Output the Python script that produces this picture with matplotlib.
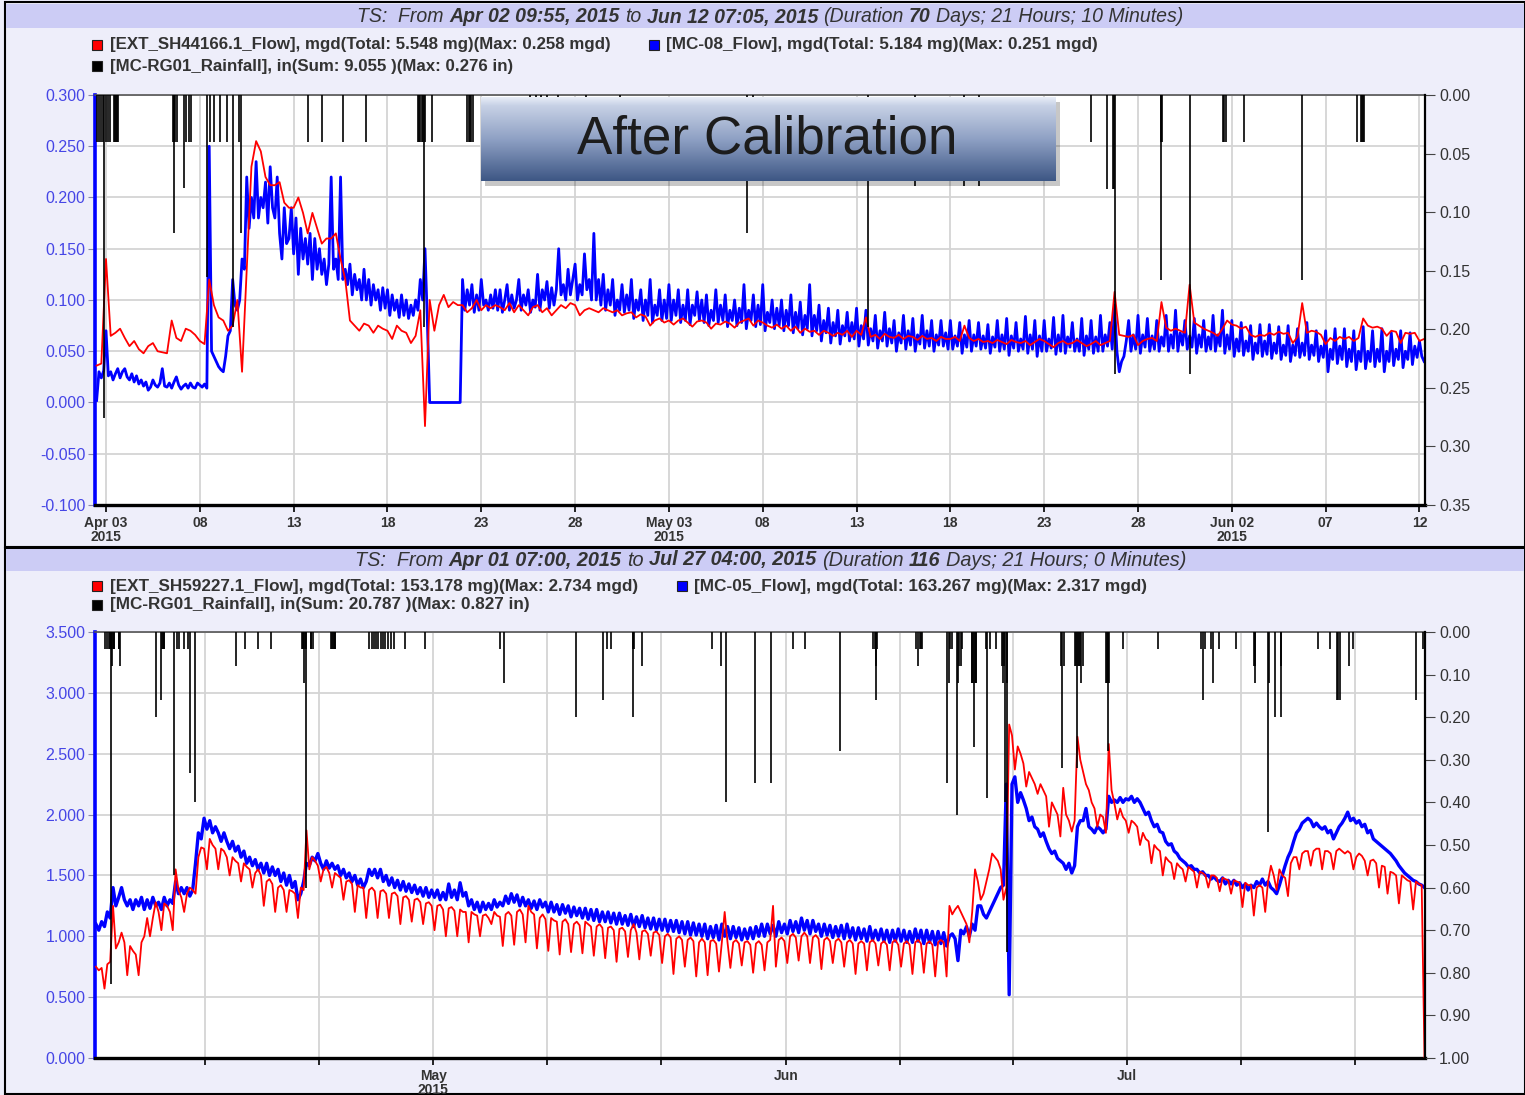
import numpy as np
import matplotlib
matplotlib.use('Agg')
import matplotlib.pyplot as plt
import matplotlib.dates as mdates
from matplotlib.patches import Rectangle

plt.rcParams['font.family'] = ['Liberation Sans', 'DejaVu Sans']

W, H = 1525, 1095

# ------------------------------------------------------------------ DATA
top_title_parts = [("TS:  From ", False), ("Apr 02 09:55, 2015", True), (" to ", False),
                   ("Jun 12 07:05, 2015", True), (" (Duration ", False), ("70", True),
                   (" Days; 21 Hours; 10 Minutes)", False)]
bot_title_parts = [("TS:  From ", False), ("Apr 01 07:00, 2015", True), (" to ", False),
                   ("Jul 27 04:00, 2015", True), (" (Duration ", False), ("116", True),
                   (" Days; 21 Hours; 0 Minutes)", False)]

top_leg_red = "[EXT_SH44166.1_Flow], mgd(Total: 5.548 mg)(Max: 0.258 mgd)"
top_leg_blue = "[MC-08_Flow], mgd(Total: 5.184 mg)(Max: 0.251 mgd)"
top_leg_rain = "[MC-RG01_Rainfall], in(Sum: 9.055 )(Max: 0.276 in)"
bot_leg_red = "[EXT_SH59227.1_Flow], mgd(Total: 153.178 mg)(Max: 2.734 mgd)"
bot_leg_blue = "[MC-05_Flow], mgd(Total: 163.267 mg)(Max: 2.317 mgd)"
bot_leg_rain = "[MC-RG01_Rainfall], in(Sum: 20.787 )(Max: 0.827 in)"

# top panel red: 6-hourly samples starting 2015-04-02 12:00 (one line per day)
top_red_start = '2015-04-02T12:00'
top_red_step_h = 6
top_red = [
    0.036, 0.038,
    0.14, 0.065, 0.068, 0.072,
    0.063, 0.055, 0.06, 0.052,
    0.048, 0.055, 0.058, 0.05,
    0.049, 0.048, 0.08, 0.063,
    0.06, 0.072, 0.07, 0.066,
    0.06, 0.057, 0.12, 0.095,
    0.083, 0.08, 0.07, 0.075,
    0.1, 0.03, 0.13, 0.23,
    0.255, 0.245, 0.22, 0.212,
    0.212, 0.215, 0.195, 0.19,
    0.19, 0.2, 0.185, 0.165,
    0.185, 0.17, 0.155, 0.16,
    0.16, 0.165, 0.14, 0.12,
    0.08, 0.075, 0.07, 0.077,
    0.075, 0.068, 0.075, 0.072,
    0.07, 0.062, 0.075, 0.07,
    0.068, 0.058, 0.065, 0.09,
    -0.023, 0.1, 0.07, 0.095,
    0.105, 0.093, 0.098, 0.095,
    0.095, 0.088, 0.092, 0.1,
    0.09, 0.095, 0.092, 0.095,
    0.093, 0.09, 0.097, 0.088,
    0.095, 0.09, 0.085, 0.093,
    0.095, 0.088, 0.092, 0.085,
    0.09, 0.095, 0.092, 0.097,
    0.095, 0.085, 0.09, 0.092,
    0.09, 0.088, 0.092, 0.09,
    0.088, 0.09, 0.085, 0.087,
    0.088, 0.083, 0.086, 0.084,
    0.075, 0.08, 0.082, 0.078,
    0.08, 0.076, 0.08, 0.082,
    0.078, 0.074, 0.079, 0.08,
    0.078, 0.072, 0.077, 0.076,
    0.079, 0.077, 0.073, 0.078,
    0.08, 0.082, 0.075, 0.08,
    0.078, 0.075, 0.073, 0.076,
    0.072, 0.075, 0.07, 0.074,
    0.068, 0.072, 0.069, 0.07,
    0.066, 0.07, 0.068, 0.065,
    0.068, 0.066, 0.07, 0.064,
    0.07, 0.066, 0.083, 0.064,
    0.066, 0.062, 0.067, 0.064,
    0.063, 0.066, 0.062, 0.065,
    0.064, 0.061, 0.065, 0.062,
    0.063, 0.06, 0.064, 0.062,
    0.062, 0.064, 0.06, 0.075,
    0.063, 0.06, 0.062, 0.059,
    0.06, 0.058, 0.061, 0.059,
    0.057, 0.061, 0.059, 0.058,
    0.06, 0.056, 0.059, 0.062,
    0.06, 0.057, 0.054, 0.058,
    0.06, 0.057, 0.058, 0.061,
    0.058, 0.055, 0.057, 0.06,
    0.056, 0.058, 0.06, 0.108,
    0.066, 0.065, 0.064, 0.066,
    0.056, 0.06, 0.062, 0.063,
    0.06, 0.098, 0.073, 0.07,
    0.072, 0.07, 0.068, 0.115,
    0.078, 0.075, 0.072, 0.07,
    0.068, 0.065, 0.072, 0.08,
    0.076, 0.075, 0.072, 0.074,
    0.066, 0.064, 0.066, 0.065,
    0.068, 0.066, 0.069, 0.067,
    0.068, 0.058, 0.064, 0.097,
    0.068, 0.07, 0.069, 0.066,
    0.057, 0.063, 0.06, 0.064,
    0.062, 0.064, 0.06, 0.063,
    0.082, 0.075, 0.073, 0.074,
    0.072, 0.065, 0.07, 0.069,
    0.058, 0.068, 0.067, 0.068,
    0.06, 0.062,
]
# top panel blue: 3-hourly samples starting 2015-04-02 12:00 (one line per day)
top_blue_start = '2015-04-02T12:00'
top_blue_step_h = 3
top_blue = [
    0.002, 0.03, 0.024, 0.031,
    0.07, 0.026, 0.03, 0.022, 0.028, 0.033, 0.024, 0.03,
    0.033, 0.025, 0.022, 0.028, 0.02, 0.026, 0.018, 0.022,
    0.016, 0.02, 0.012, 0.015, 0.022, 0.017, 0.015, 0.019,
    0.033, 0.016, 0.015, 0.019, 0.014, 0.02, 0.025, 0.017,
    0.013, 0.016, 0.018, 0.014, 0.019, 0.015, 0.014, 0.019,
    0.017, 0.015, 0.018, 0.014, 0.25, 0.05, 0.045, 0.04,
    0.035, 0.032, 0.03, 0.045, 0.065, 0.07, 0.12, 0.095,
    0.09, 0.1, 0.14, 0.13, 0.22, 0.17, 0.2, 0.18,
    0.235, 0.18, 0.2, 0.19, 0.215, 0.175, 0.23, 0.19,
    0.18, 0.22, 0.165, 0.14, 0.19, 0.155, 0.16, 0.19,
    0.145, 0.18, 0.125, 0.17, 0.14, 0.16, 0.135, 0.165,
    0.12, 0.16, 0.13, 0.15, 0.125, 0.14, 0.115, 0.135,
    0.22, 0.13, 0.14, 0.12, 0.22, 0.12, 0.13, 0.115,
    0.135, 0.105, 0.125, 0.11, 0.12, 0.1, 0.13, 0.1,
    0.12, 0.095, 0.115, 0.1, 0.11, 0.09, 0.112, 0.092,
    0.11, 0.085, 0.105, 0.09, 0.1, 0.083, 0.105, 0.085,
    0.1, 0.082, 0.095, 0.085, 0.1, 0.09, 0.12, 0.1,
    0.15, 0.08, 0.0, 0.0, 0.0, 0.0, 0.0, 0.0,
    0.0, 0.0, 0.0, 0.0, 0.0, 0.0, 0.0, 0.0,
    0.12, 0.09, 0.11, 0.095, 0.115, 0.088, 0.105, 0.09,
    0.12, 0.095, 0.1, 0.09, 0.105, 0.092, 0.11, 0.09,
    0.11, 0.088, 0.1, 0.115, 0.09, 0.105, 0.092, 0.1,
    0.12, 0.09, 0.105, 0.095, 0.11, 0.088, 0.1, 0.093,
    0.125, 0.09, 0.11, 0.1, 0.118, 0.092, 0.112, 0.095,
    0.11, 0.15, 0.105, 0.115, 0.1, 0.13, 0.105, 0.12,
    0.135, 0.1, 0.115, 0.105, 0.145, 0.11, 0.12, 0.1,
    0.165, 0.1, 0.12, 0.095, 0.125, 0.09, 0.11, 0.095,
    0.12, 0.085, 0.1, 0.09, 0.115, 0.088, 0.105, 0.09,
    0.12, 0.082, 0.1, 0.09, 0.11, 0.08, 0.1, 0.085,
    0.12, 0.078, 0.095, 0.085, 0.11, 0.08, 0.1, 0.082,
    0.115, 0.08, 0.1, 0.085, 0.11, 0.078, 0.095, 0.08,
    0.11, 0.076, 0.095, 0.085, 0.108, 0.08, 0.1, 0.078,
    0.105, 0.075, 0.09, 0.08, 0.11, 0.078, 0.095, 0.08,
    0.105, 0.074, 0.09, 0.08, 0.1, 0.075, 0.092, 0.078,
    0.115, 0.072, 0.09, 0.08, 0.105, 0.074, 0.095, 0.076,
    0.115, 0.07, 0.088, 0.078, 0.1, 0.072, 0.092, 0.075,
    0.1, 0.07, 0.09, 0.075, 0.105, 0.068, 0.088, 0.072,
    0.098, 0.066, 0.085, 0.072, 0.115, 0.065, 0.085, 0.07,
    0.095, 0.06, 0.08, 0.068, 0.092, 0.058, 0.078, 0.065,
    0.09, 0.057, 0.075, 0.065, 0.088, 0.06, 0.078, 0.062,
    0.092, 0.055, 0.075, 0.062, 0.09, 0.056, 0.072, 0.06,
    0.085, 0.053, 0.07, 0.06, 0.088, 0.055, 0.072, 0.058,
    0.08, 0.05, 0.068, 0.058, 0.085, 0.052, 0.07, 0.056,
    0.082, 0.05, 0.066, 0.057, 0.085, 0.053, 0.07, 0.055,
    0.08, 0.05, 0.066, 0.056, 0.08, 0.055, 0.068, 0.052,
    0.08, 0.052, 0.065, 0.055, 0.078, 0.048, 0.066, 0.054,
    0.08, 0.05, 0.066, 0.055, 0.078, 0.052, 0.065, 0.053,
    0.076, 0.048, 0.064, 0.054, 0.08, 0.05, 0.066, 0.052,
    0.082, 0.046, 0.065, 0.053, 0.078, 0.05, 0.062, 0.052,
    0.084, 0.048, 0.066, 0.052, 0.08, 0.045, 0.065, 0.05,
    0.08, 0.05, 0.062, 0.053, 0.083, 0.047, 0.066, 0.05,
    0.085, 0.048, 0.064, 0.054, 0.078, 0.05, 0.062, 0.05,
    0.082, 0.046, 0.065, 0.052, 0.08, 0.048, 0.064, 0.05,
    0.085, 0.05, 0.066, 0.055, 0.078, 0.052, 0.095, 0.05,
    0.03, 0.04, 0.045, 0.06, 0.08, 0.05, 0.066, 0.052,
    0.085, 0.048, 0.066, 0.054, 0.082, 0.05, 0.065, 0.052,
    0.08, 0.05, 0.064, 0.055, 0.085, 0.05, 0.066, 0.053,
    0.09, 0.05, 0.068, 0.056, 0.08, 0.052, 0.065, 0.054,
    0.082, 0.048, 0.066, 0.054, 0.08, 0.05, 0.064, 0.052,
    0.085, 0.05, 0.066, 0.055, 0.09, 0.048, 0.066, 0.052,
    0.08, 0.045, 0.062, 0.05, 0.078, 0.046, 0.06, 0.05,
    0.075, 0.042, 0.058, 0.048, 0.076, 0.045, 0.06, 0.047,
    0.076, 0.043, 0.058, 0.048, 0.074, 0.042, 0.056, 0.046,
    0.075, 0.04, 0.056, 0.046, 0.072, 0.044, 0.058, 0.046,
    0.078, 0.042, 0.056, 0.046, 0.07, 0.04, 0.055, 0.044,
    0.07, 0.03, 0.052, 0.042, 0.072, 0.038, 0.055, 0.042,
    0.072, 0.035, 0.052, 0.04, 0.07, 0.032, 0.05, 0.04,
    0.074, 0.033, 0.05, 0.04, 0.07, 0.035, 0.052, 0.04,
    0.072, 0.03, 0.05, 0.04, 0.068, 0.036, 0.052, 0.042,
    0.07, 0.034, 0.05, 0.042, 0.068, 0.037, 0.055, 0.044,
    0.06, 0.045, 0.04,
]
# rainfall (days after 2015-04-02 00:00, inches)
top_rain_day = [0.54, 0.63, 0.73, 0.82, 0.89, 1.0, 1.12, 1.21, 1.42, 1.47, 1.52, 1.57, 1.62,
                4.58, 4.6, 4.65, 4.7, 4.76, 5.15, 5.24, 5.42, 5.51,
                6.36, 6.54, 6.75, 7.07, 7.46, 7.78, 8.1, 8.19,
                11.78, 12.49, 13.64, 14.85,
                17.64, 17.7, 17.76, 17.82, 17.88, 17.96, 18.0, 18.38,
                20.25, 20.32, 20.4, 20.47, 20.57,
                23.6, 23.9, 24.2, 24.5, 25.1, 26.6, 28.4,
                35.15, 35.47, 41.6, 44.1, 46.7, 47.5,
                53.5, 54.33, 54.65, 54.7, 54.75, 57.2, 57.24, 57.3, 58.75,
                60.55, 60.6, 60.67, 61.63, 64.72, 67.65, 67.86, 67.93, 68.0, 68.07]
top_rain_in = [0.04, 0.04, 0.04, 0.04, 0.276, 0.04, 0.04, 0.04, 0.04, 0.04, 0.04, 0.04, 0.04,
               0.04, 0.118, 0.04, 0.04, 0.04, 0.079, 0.04, 0.04, 0.04,
               0.155, 0.04, 0.04, 0.04, 0.04, 0.198, 0.04, 0.118,
               0.04, 0.04, 0.04, 0.04,
               0.04, 0.04, 0.04, 0.04, 0.04, 0.198, 0.04, 0.04,
               0.04, 0.04, 0.04, 0.04, 0.04,
               0.04, 0.04, 0.04, 0.04, 0.04, 0.04, 0.04,
               0.118, 0.04, 0.198, 0.078, 0.078, 0.078,
               0.04, 0.08, 0.08, 0.08, 0.238, 0.04, 0.158, 0.04, 0.238,
               0.04, 0.04, 0.04, 0.04, 0.158, 0.04, 0.04, 0.04, 0.04, 0.04]

# bottom panel: 6-hourly samples starting 2015-04-01 09:00 (one line per day)
bot_start = '2015-04-01T09:00'
bot_step_h = 6
bot_red = [
    0.75, 0.72, 0.74,
    0.57, 0.77, 0.79, 1.25,
    0.9, 0.95, 1.03, 0.95,
    0.68, 0.92, 0.88, 0.85,
    0.68, 0.95, 1.0, 1.15,
    1.0, 1.15, 1.28, 1.2,
    1.05, 1.27, 1.25, 1.2,
    1.05, 1.55, 1.38, 1.32,
    1.2, 1.35, 1.4, 1.38,
    1.35, 1.65, 1.73, 1.72,
    1.55, 1.8, 1.75, 1.72,
    1.55, 1.72, 1.7, 1.65,
    1.5, 1.65, 1.62, 1.6,
    1.45, 1.6, 1.57, 1.55,
    1.4, 1.52, 1.55, 1.5,
    1.25, 1.45, 1.47, 1.43,
    1.2, 1.4, 1.42, 1.38,
    1.2, 1.38, 1.37, 1.35,
    1.15, 1.4, 1.38, 1.87,
    1.55, 1.65, 1.62, 1.58,
    1.45, 1.55, 1.57, 1.52,
    1.4, 1.52, 1.5, 1.48,
    1.3, 1.45, 1.46, 1.43,
    1.2, 1.42, 1.4, 1.4,
    1.15, 1.38, 1.4, 1.37,
    1.15, 1.37, 1.38, 1.35,
    1.15, 1.35, 1.36, 1.33,
    1.1, 1.32, 1.33, 1.3,
    1.12, 1.3, 1.31, 1.28,
    1.1, 1.27, 1.28, 1.25,
    1.05, 1.25, 1.26, 1.22,
    1.0, 1.23, 1.24, 1.21,
    1.0, 1.22, 1.2, 1.2,
    0.95, 1.2, 1.18, 1.17,
    1.0, 1.17, 1.18, 1.15,
    1.1, 1.2, 1.17, 1.16,
    0.92, 1.18, 1.2, 1.17,
    0.93, 1.2, 1.22, 1.18,
    0.95, 1.25, 1.2, 1.18,
    0.9, 1.15, 1.18, 1.14,
    0.88, 1.15, 1.13, 1.12,
    0.85, 1.12, 1.14, 1.1,
    0.87, 1.1, 1.12, 1.09,
    0.86, 1.12, 1.1, 1.08,
    0.84, 1.08, 1.1, 1.07,
    0.82, 1.07, 1.08, 1.05,
    0.79, 1.06, 1.07, 1.04,
    0.83, 1.05, 1.1, 1.03,
    0.81, 1.04, 1.05, 1.02,
    0.84, 1.03, 1.04, 1.01,
    0.78, 1.0, 1.02, 0.99,
    0.69, 0.98, 1.0, 0.97,
    0.75, 0.97, 0.99, 0.96,
    0.67, 0.95, 0.98, 0.95,
    0.68, 0.96, 0.97, 0.94,
    0.71, 0.95, 1.2, 0.95,
    0.74, 0.95, 0.97, 0.94,
    0.76, 0.95, 0.96, 0.93,
    0.7, 0.94, 0.96, 0.93,
    0.72, 0.95, 0.97, 1.25,
    0.75, 0.97, 0.99, 0.96,
    0.78, 1.0, 1.02, 0.99,
    0.8, 1.0, 1.03, 1.0,
    0.78, 0.99, 1.01, 0.98,
    0.73, 0.97, 0.99, 0.96,
    0.78, 0.96, 0.98, 0.95,
    0.75, 0.95, 0.97, 0.94,
    0.69, 0.94, 0.96, 0.94,
    0.72, 0.95, 0.97, 0.94,
    0.76, 0.94, 0.96, 0.93,
    0.72, 0.95, 0.97, 0.93,
    0.75, 0.94, 0.96, 0.93,
    0.69, 0.95, 0.97, 0.94,
    0.7, 0.94, 0.96, 0.93,
    0.67, 0.95, 0.97, 0.95,
    0.67, 1.25, 1.18, 1.22,
    1.25, 1.2, 1.15, 1.1,
    0.95, 1.2, 1.55, 1.45,
    1.3, 1.35, 1.45, 1.55,
    1.68, 1.65, 1.62, 1.55,
    1.3, 1.4, 2.74, 2.65,
    2.37, 2.56, 2.5, 2.42,
    2.23, 2.35, 2.3, 2.25,
    2.17, 2.25, 2.2, 2.15,
    1.9, 2.1, 2.05, 2.0,
    1.82, 2.22, 2.0, 1.95,
    1.86, 1.95, 2.64, 2.45,
    2.35, 2.25, 2.2, 2.1,
    2.05, 1.9, 2.0, 1.98,
    1.85, 2.58, 2.2, 2.09,
    1.96, 2.05, 1.98, 1.95,
    1.85, 1.95, 1.93, 1.9,
    1.75, 1.85, 1.8, 1.78,
    1.6, 1.75, 1.72, 1.7,
    1.5, 1.65, 1.62, 1.6,
    1.47, 1.6, 1.57, 1.55,
    1.45, 1.57, 1.55, 1.53,
    1.4, 1.53, 1.52, 1.5,
    1.4, 1.5, 1.5, 1.48,
    1.37, 1.48, 1.47, 1.46,
    1.35, 1.46, 1.45, 1.44,
    1.24, 1.44, 1.42, 1.42,
    1.17, 1.4, 1.42, 1.4,
    1.2, 1.45, 1.58, 1.5,
    1.38, 1.55, 1.5, 1.48,
    1.33, 1.6, 1.65, 1.65,
    1.55, 1.68, 1.7, 1.7,
    1.58, 1.7, 1.72, 1.72,
    1.55, 1.7, 1.7, 1.68,
    1.55, 1.7, 1.72, 1.7,
    1.68, 1.7, 1.68, 1.55,
    1.65, 1.68, 1.66, 1.62,
    1.5, 1.62, 1.63, 1.6,
    1.4, 1.58, 1.57, 1.35,
    1.53, 1.52, 1.5, 1.27,
    1.5, 1.48, 1.46, 1.45,
    1.22, 1.45, 1.43, 1.42,
    0.0,
]
bot_blue = [
    1.1, 1.05, 1.12,
    1.08, 1.2, 1.15, 1.4,
    1.25, 1.32, 1.4, 1.3,
    1.25, 1.3, 1.22, 1.3,
    1.25, 1.32, 1.22, 1.3,
    1.23, 1.32, 1.25, 1.28,
    1.22, 1.32, 1.25, 1.3,
    1.27, 1.45, 1.35, 1.4,
    1.35, 1.4, 1.33, 1.38,
    1.6, 1.85, 1.8, 1.97,
    1.88, 1.95, 1.85, 1.9,
    1.85, 1.78, 1.85, 1.78,
    1.72, 1.78, 1.7, 1.74,
    1.65, 1.7, 1.6, 1.65,
    1.58, 1.63, 1.55, 1.6,
    1.52, 1.6, 1.5, 1.57,
    1.5, 1.55, 1.45, 1.52,
    1.42, 1.5, 1.4, 1.45,
    1.3, 1.35, 1.45, 1.6,
    1.58, 1.65, 1.62, 1.68,
    1.6, 1.55, 1.62, 1.56,
    1.6, 1.55, 1.58, 1.5,
    1.55, 1.48, 1.52, 1.45,
    1.5, 1.42, 1.47, 1.4,
    1.45, 1.55, 1.5, 1.55,
    1.48, 1.55, 1.45, 1.5,
    1.42, 1.48, 1.4, 1.46,
    1.38, 1.45, 1.37, 1.43,
    1.36, 1.42, 1.35, 1.4,
    1.33, 1.4, 1.32, 1.38,
    1.32, 1.38, 1.3, 1.36,
    1.3, 1.43, 1.32, 1.38,
    1.3, 1.44, 1.33, 1.36,
    1.25, 1.3, 1.22, 1.28,
    1.2, 1.28, 1.22, 1.27,
    1.22, 1.3, 1.24, 1.28,
    1.25, 1.33, 1.27, 1.35,
    1.28, 1.34, 1.25, 1.32,
    1.25, 1.3, 1.23, 1.29,
    1.22, 1.3, 1.24, 1.28,
    1.2, 1.28, 1.2, 1.26,
    1.18, 1.26, 1.19, 1.25,
    1.16, 1.24, 1.17, 1.23,
    1.15, 1.23, 1.14, 1.22,
    1.13, 1.22, 1.12, 1.2,
    1.12, 1.2, 1.11, 1.19,
    1.1, 1.19, 1.1, 1.17,
    1.09, 1.18, 1.08, 1.16,
    1.08, 1.17, 1.07, 1.15,
    1.06, 1.15, 1.05, 1.14,
    1.05, 1.14, 1.04, 1.13,
    1.04, 1.13, 1.03, 1.12,
    1.02, 1.12, 1.01, 1.11,
    1.01, 1.1, 1.0, 1.1,
    0.98, 1.08, 0.99, 1.09,
    0.97, 1.1, 1.0, 1.08,
    0.98, 1.08, 0.99, 1.07,
    0.97, 1.06, 0.98, 1.07,
    0.98, 1.08, 1.0, 1.1,
    1.0, 1.1, 1.02, 1.09,
    1.0, 1.12, 1.03, 1.1,
    1.02, 1.13, 1.04, 1.12,
    1.03, 1.15, 1.05, 1.13,
    1.02, 1.13, 1.04, 1.1,
    1.0, 1.1, 1.01, 1.09,
    0.99, 1.08, 1.0, 1.09,
    0.98, 1.1, 0.99, 1.07,
    0.97, 1.07, 0.98, 1.06,
    0.96, 1.08, 0.97, 1.05,
    0.97, 1.06, 0.96, 1.05,
    0.95, 1.05, 0.96, 1.06,
    0.96, 1.05, 0.95, 1.04,
    0.95, 1.06, 0.96, 1.05,
    0.94, 1.05, 0.95, 1.04,
    0.93, 1.04, 0.94, 1.03,
    0.92, 1.0, 1.02, 0.98,
    0.8, 1.05, 1.02, 1.08,
    1.0, 1.1, 1.05, 1.25,
    1.25, 1.18, 1.15, 1.2,
    1.25, 1.3, 1.35, 1.4,
    1.42, 2.25, 0.52, 2.25,
    2.31, 2.1, 2.18, 2.12,
    2.05, 1.95, 1.98, 1.9,
    1.88, 1.82, 1.85, 1.78,
    1.72, 1.68, 1.7, 1.64,
    1.62, 1.6, 1.55, 1.6,
    1.52, 1.58, 1.9, 1.95,
    1.95, 2.05, 1.9, 1.88,
    1.85, 1.9, 1.88, 1.85,
    1.88, 2.15, 2.1, 2.12,
    2.1, 2.14, 2.1, 2.13,
    2.12, 2.15, 2.1, 2.13,
    2.1, 2.05, 2.0, 2.02,
    1.95, 1.9, 1.92, 1.86,
    1.85, 1.78, 1.75, 1.76,
    1.7, 1.68, 1.64, 1.62,
    1.6, 1.57, 1.58, 1.55,
    1.55, 1.52, 1.53, 1.5,
    1.5, 1.47, 1.49, 1.46,
    1.45, 1.48, 1.43, 1.46,
    1.43, 1.46, 1.42, 1.44,
    1.4, 1.43, 1.38, 1.42,
    1.4, 1.45, 1.42, 1.47,
    1.42, 1.45, 1.4, 1.38,
    1.35, 1.42, 1.5, 1.58,
    1.65, 1.7, 1.78, 1.85,
    1.88, 1.93, 1.95, 1.97,
    1.95, 1.9, 1.93, 1.9,
    1.88, 1.9, 1.85, 1.87,
    1.8, 1.85, 1.9, 1.93,
    1.97, 2.02, 1.95, 1.97,
    1.93, 1.95, 1.9, 1.92,
    1.85, 1.87, 1.8, 1.78,
    1.76, 1.74, 1.72, 1.7,
    1.68, 1.65, 1.62, 1.58,
    1.55, 1.52, 1.5, 1.48,
    1.46, 1.45, 1.43, 1.42,
    1.4,
]
# rainfall (days after 2015-04-01 00:00, inches)
bot_rain_day = [1.16, 1.33, 1.48, 1.63, 1.68, 1.74, 1.8, 1.86, 1.92, 1.98, 2.36, 2.43, 2.5,
                5.62, 6.09, 6.18, 6.25, 6.32, 6.38,
                7.26, 7.5, 7.7, 8.08, 8.43, 8.67, 9.08,
                12.69, 13.48, 14.6, 15.77,
                18.47, 18.54, 18.6, 18.67, 18.74, 18.8, 18.85, 19.23, 19.3, 19.44,
                21.05, 21.12, 21.2, 21.27, 21.34, 21.4,
                24.4, 24.6, 24.8, 25.0, 25.2, 25.4, 25.6, 25.8, 26.0, 26.3, 26.6,
                27.57, 29.27, 35.87, 36.25,
                42.56, 44.96, 45.26, 45.64, 47.55, 47.61, 47.67, 48.34,
                54.5, 55.3, 55.7, 58.25, 59.72, 61.6, 62.66, 65.74,
                68.7, 68.8, 68.9, 68.95, 69.0,
                72.4, 72.63, 72.75, 72.85, 72.98,
                75.2, 75.34, 75.45, 75.57, 76.0, 76.15, 76.25, 76.36, 76.45,
                77.33, 77.4, 77.47, 77.53, 77.6, 77.67, 77.74,
                78.62, 78.7, 78.9, 79.44,
                80.0, 80.1, 80.2, 80.3, 80.4, 80.47,
                85.2, 85.3, 85.4,
                86.43, 86.5, 86.55, 86.65, 86.75, 86.85, 86.98, 87.07,
                89.13, 89.2, 89.28, 89.33, 89.42,
                90.6, 93.68, 97.5, 97.65, 97.8, 98.4, 98.5, 99.1, 100.6,
                102.1, 102.2, 102.25, 103.36, 103.5, 103.95, 104.47, 104.55,
                107.8, 108.8, 109.4, 109.55, 109.7, 110.5, 110.85, 116.4, 116.95]
bot_rain_in = [0.04, 0.04, 0.04, 0.04, 0.04, 0.827, 0.08, 0.04, 0.04, 0.04, 0.04, 0.04, 0.08,
               0.2, 0.16, 0.04, 0.04, 0.04, 0.04,
               0.57, 0.04, 0.04, 0.04, 0.04, 0.33, 0.4,
               0.08, 0.04, 0.04, 0.04,
               0.04, 0.04, 0.04, 0.12, 0.04, 0.04, 0.6, 0.04, 0.04, 0.04,
               0.04, 0.04, 0.04, 0.04, 0.04, 0.04,
               0.04, 0.04, 0.04, 0.04, 0.04, 0.04, 0.04, 0.04, 0.04, 0.04, 0.04,
               0.04, 0.04, 0.04, 0.12,
               0.2, 0.16, 0.04, 0.04, 0.04, 0.2, 0.04, 0.08,
               0.04, 0.08, 0.4, 0.355, 0.355, 0.04, 0.04, 0.28,
               0.04, 0.04, 0.08, 0.16, 0.04,
               0.04, 0.08, 0.04, 0.04, 0.04,
               0.355, 0.12, 0.04, 0.04, 0.43, 0.12, 0.08, 0.08, 0.04,
               0.12, 0.12, 0.12, 0.27, 0.12, 0.12, 0.12,
               0.04, 0.39, 0.04, 0.04,
               0.08, 0.12, 0.08, 0.4, 0.12, 0.75,
               0.08, 0.32, 0.08,
               0.08, 0.08, 0.32, 0.08, 0.08, 0.08, 0.12, 0.08,
               0.12, 0.12, 0.12, 0.28, 0.12,
               0.04, 0.04, 0.04, 0.16, 0.04, 0.04, 0.12, 0.04, 0.04,
               0.08, 0.12, 0.08, 0.47, 0.12, 0.2, 0.2, 0.08,
               0.04, 0.04, 0.16, 0.16, 0.16, 0.08, 0.04, 0.16, 0.04]

top_xlim = ['2015-04-02T09:55', '2015-06-12T07:05']
top_tick_dates = ['2015-04-03', '2015-04-08', '2015-04-13', '2015-04-18', '2015-04-23',
                  '2015-04-28', '2015-05-03', '2015-05-08', '2015-05-13', '2015-05-18',
                  '2015-05-23', '2015-05-28', '2015-06-02', '2015-06-07', '2015-06-12']
top_tick_labels = ['Apr 03\n2015', '08', '13', '18', '23', '28', 'May 03\n2015', '08', '13',
                   '18', '23', '28', 'Jun 02\n2015', '07', '12']
bot_xlim = ['2015-04-01T07:00', '2015-07-27T04:00']
bot_tick_dates = ['2015-04-11', '2015-04-21', '2015-05-01', '2015-05-11', '2015-05-21',
                  '2015-06-01', '2015-06-11', '2015-06-21', '2015-07-01', '2015-07-11',
                  '2015-07-21']
bot_tick_labels = ['', '', 'May\n2015', '', '', 'Jun', '', '', 'Jul', '', '']

top_left_ticks = [-0.1, -0.05, 0.0, 0.05, 0.1, 0.15, 0.2, 0.25, 0.3]
top_right_ticks = [0.0, 0.05, 0.1, 0.15, 0.2, 0.25, 0.3, 0.35]
bot_left_ticks = [0.0, 0.5, 1.0, 1.5, 2.0, 2.5, 3.0, 3.5]
bot_right_ticks = [0.0, 0.1, 0.2, 0.3, 0.4, 0.5, 0.6, 0.7, 0.8, 0.9, 1.0]

# ------------------------------------------------------------------ HELPERS
BG = '#EEEEFA'
BAR = '#CCCCF5'
TXT = '#333333'


def fx(x):
    return x / W


def fy(y):
    return 1 - y / H


def dnum(s):
    return mdates.date2num(np.datetime64(s))


def series_times(start, n, step_h):
    t = np.datetime64(start) + np.arange(n) * np.timedelta64(step_h * 60, 'm')
    return mdates.date2num(t)


def day_times(base, days):
    t = np.datetime64(base) + (np.array(days) * 86400).astype('int64').astype('timedelta64[s]')
    return mdates.date2num(t)


fig = plt.figure(figsize=(W / 100, H / 100), dpi=100, facecolor=BG)
R = fig.canvas.get_renderer()


def text_width(s, fs, **kw):
    t = fig.text(0, 0, '|' + s + '|', fontsize=fs, **kw)
    w1 = t.get_window_extent(R).width
    t.set_text('||')
    w2 = t.get_window_extent(R).width
    t.remove()
    return w1 - w2


def fit_text(x, y, s, target, **kw):
    w = text_width(s, 20, **kw)
    fs = 20 * target / w
    fig.text(fx(x), fy(y), s, fontsize=fs, ha='left', va='center', **kw)


def rich_line(parts, x0, y, target, color):
    ws = [text_width(s, 20, fontstyle='italic', fontweight='bold' if b else 'normal')
          for s, b in parts]
    sc = target / sum(ws)
    fs = 20 * sc
    x = x0
    for (s, b), w in zip(parts, ws):
        kw = dict(fontstyle='italic', fontweight='bold' if b else 'normal')
        lead = len(s) - len(s.lstrip(' '))
        lw = text_width(' ' * lead, 20, **kw) * sc if lead else 0
        fig.text(fx(x + lw), fy(y), s.strip(' '), fontsize=fs, ha='left', va='center',
                 color=color, **kw)
        x += w * sc


# ------------------------------------------------------------------ BACKGROUND
for (y0, y1, tb0, tb1) in [(2, 547, 4, 28), (548, 1094, 549, 571)]:
    fig.add_artist(Rectangle((fx(5), fy(y1)), (W - 5) / W, (y1 - y0) / H,
                             transform=fig.transFigure, fc=BG, ec='black', lw=1.5,
                             zorder=-10))
    fig.add_artist(Rectangle((fx(6), fy(tb1)), (W - 7) / W, (tb1 - tb0) / H,
                             transform=fig.transFigure, fc=BAR, ec='none', zorder=-9))

rich_line(top_title_parts, 357, 17, 826, TXT)
rich_line(bot_title_parts, 355, 560, 831, TXT)

# legends
for (sx, sy, col) in [(92, 40, 'red'), (649, 40, 'blue'), (92, 61, 'black'),
                      (92, 581, 'red'), (677, 581, 'blue'), (92, 600, 'black')]:
    fig.add_artist(Rectangle((fx(sx), fy(sy + 10)), 10 / W, 10 / H, transform=fig.transFigure,
                             fc=col, ec='#222222', lw=0.8))
fit_text(110, 45, top_leg_red, 502, fontweight='bold', color=TXT)
fit_text(666, 45, top_leg_blue, 431, fontweight='bold', color=TXT)
fit_text(110, 66, top_leg_rain, 404, fontweight='bold', color=TXT)
fit_text(110, 586, bot_leg_red, 528, fontweight='bold', color=TXT)
fit_text(694, 586, bot_leg_blue, 454, fontweight='bold', color=TXT)
fit_text(110, 605, bot_leg_rain, 420, fontweight='bold', color=TXT)


# ------------------------------------------------------------------ PANELS
def make_panel(rect, xlim, tick_dates, tick_labels, lticks, lfmt, rticks, rfmt, rmax,
               red_t, red, blue_t, blue, blue_lw, rain_base, rain_day, rain_in):
    ax = fig.add_axes(rect)
    ax.set_facecolor('white')
    ax.set_xlim(dnum(xlim[0]), dnum(xlim[1]))
    ax.set_ylim(lticks[0], lticks[-1])
    ax.set_yticks(lticks)
    ax.set_yticklabels([lfmt % (abs(v) if abs(v) < 1e-9 else v) for v in lticks])
    ax.set_xticks([dnum(d) for d in tick_dates])
    ax.set_xticklabels(tick_labels, fontweight='bold', fontsize=10, color=TXT,
                       linespacing=1.0)
    ax.grid(True, color='#D4D4D4', lw=1.3)
    ax.set_axisbelow(True)
    ax.tick_params(axis='y', direction='out', length=5, color='#8888AA', labelsize=11.5,
                   labelcolor='#4646E6', pad=2)
    ax.tick_params(axis='x', direction='out', length=5, width=1.2, color='black', pad=3)
    ax.spines['right'].set_visible(False)
    ax.spines['left'].set_color('#0000FF')
    ax.spines['left'].set_linewidth(2.6)
    ax.spines['bottom'].set_color('black')
    ax.spines['bottom'].set_linewidth(2.4)
    ax.spines['top'].set_color('#555555')
    ax.spines['top'].set_linewidth(1.2)

    ax.plot(blue_t, blue, color='#0000FF', lw=blue_lw, zorder=3)
    ax.plot(red_t, red, color='#FF0000', lw=1.3, zorder=4)

    ax2 = ax.twinx()
    ax2.set_ylim(rmax, 0)
    ax2.set_yticks(rticks)
    ax2.set_yticklabels([rfmt % v for v in rticks])
    ax2.tick_params(axis='y', direction='out', length=7, color='#444444', labelsize=11.5,
                    labelcolor=TXT, pad=3)
    for s in ['left', 'top', 'bottom']:
        ax2.spines[s].set_visible(False)
    ax2.spines['right'].set_color('black')
    ax2.spines['right'].set_linewidth(1.6)
    ax2.vlines(day_times(rain_base, rain_day), 0, rain_in, colors='black', lw=1.2, zorder=2)
    ax2.set_xlim(ax.get_xlim())
    return ax, ax2


make_panel([fx(95), fy(505), 1330 / W, 410 / H], top_xlim, top_tick_dates, top_tick_labels,
           top_left_ticks, '%.3f', top_right_ticks, '%.2f', 0.35,
           series_times(top_red_start, len(top_red), top_red_step_h), top_red,
           series_times(top_blue_start, len(top_blue), top_blue_step_h), top_blue, 2.0,
           '2015-04-02T00:00', top_rain_day, top_rain_in)
make_panel([fx(95), fy(1058), 1330 / W, 426 / H], bot_xlim, bot_tick_dates, bot_tick_labels,
           bot_left_ticks, '%.3f', bot_right_ticks, '%.2f', 1.0,
           series_times(bot_start, len(bot_red), bot_step_h), bot_red,
           series_times(bot_start, len(bot_blue), bot_step_h), bot_blue, 2.4,
           '2015-04-01T00:00', bot_rain_day, bot_rain_in)

# ------------------------------------------------------------------ "After Calibration" box
fig.add_artist(Rectangle((fx(485), fy(186)), 575 / W, 84 / H, transform=fig.transFigure,
                         fc='black', alpha=0.22, ec='none', zorder=4))
bx = fig.add_axes([fx(481), fy(181), 575 / W, 84 / H], zorder=5)
bx.set_axis_off()
pos = [0.0, 0.1, 0.5, 1.0]
cols = np.array([[0.91, 0.93, 0.97], [0.78, 0.82, 0.90], [0.56, 0.63, 0.77], [0.24, 0.34, 0.52]])
yy = np.linspace(0, 1, 120)
grad = np.stack([np.interp(yy, pos, cols[:, k]) for k in range(3)], axis=-1)[:, None, :]
bx.imshow(grad, aspect='auto', extent=[0, 1, 0, 1], origin='upper', interpolation='bilinear')
bx.set_xlim(0, 1)
bx.set_ylim(0, 1)
wt = text_width('After Calibration', 20)
bx.text(0.497, 0.50, 'After Calibration', fontsize=20 * 379 / wt, color='#1C1C1C',
        ha='center', va='center', transform=bx.transAxes)

fig.savefig('out.png', dpi=100, facecolor=BG)
